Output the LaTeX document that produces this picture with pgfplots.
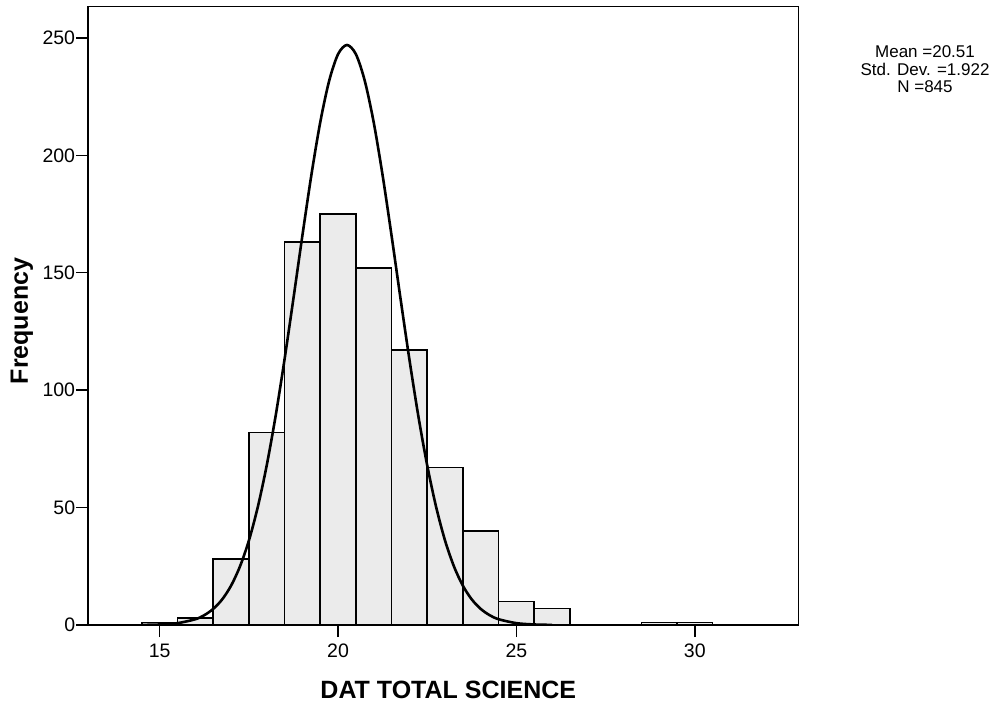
\documentclass[border=0pt]{standalone}
\usepackage{fontspec}
\setmainfont{Liberation Sans}
\usepackage{pgfplots}
\pgfplotsset{compat=1.18}
\begin{document}
\begin{tikzpicture}[x=1pt,y=1pt]
\path[use as bounding box] (0,0) rectangle (1007,710);
\begin{axis}[
  at={(88.3pt,85pt)}, anchor=south west,
  scale only axis, width=710pt, height=618.5pt,
  xmin=13, xmax=32.9, ymin=0, ymax=263.4,
  xtick={15,20,25,30}, ytick={0,50,100,150,200,250},
  xtick pos=left, ytick pos=left,
  tick align=outside, major tick length=12pt,
  axis line style={line width=1.6pt},
  every tick/.style={black, line width=1.4pt},
  /pgf/number format/assume math mode=true,
  ticklabel style={font=\fontsize{19.5}{21}\selectfont, inner sep=1pt},
  xticklabel style={yshift=-6pt},
  xlabel={DAT TOTAL SCIENCE},
  ylabel={Frequency},
  xlabel style={font=\bfseries\fontsize{25}{28}\selectfont, at={(axis description cs:0.507,-0.105)}, anchor=center},
  ylabel style={font=\bfseries\fontsize{25}{28}\selectfont, at={(axis description cs:-0.0934,0.4915)}, anchor=center},
]
\addplot[ybar, bar width=1, bar shift=0pt, fill=gray!16, draw=black, line width=1.6pt]
  coordinates {(15,1)(16,3)(17,28)(18,82)(19,163)(20,175)(21,152)(22,117)(23,67)(24,40)(25,10)(26,7)(29,1)(30,1)};
\addplot[black, line width=2.6pt, smooth, mark=none]
  coordinates {(14.5,0.05)(15,0.22)(15.5,0.78)(16,2.46)(16.25,4.17)(16.5,6.84)(16.75,10.85)(17,16.7)(17.25,24.9)(17.5,35.9)(17.75,50.2)(18,67.9)(18.25,89.0)(18.5,113.1)(18.75,139.1)(19,165.8)(19.25,191.4)(19.5,214.0)(19.75,231.7)(20,243.1)(20.25,247)(20.5,243.1)(20.75,231.7)(21,214.0)(21.25,191.4)(21.5,165.8)(21.75,139.1)(22,113.1)(22.25,89.0)(22.5,67.9)(22.75,50.2)(23,35.9)(23.25,24.9)(23.5,16.7)(23.75,10.85)(24,6.84)(24.25,4.17)(24.5,2.46)(25,0.78)(25.5,0.22)(26,0.05)};
\end{axis}
\node[align=center, font=\fontsize{17}{17.5}\selectfont, inner sep=0pt] at (925,640.5) {Mean =20.51\\Std. Dev. =1.922\\N =845};
\end{tikzpicture}
\end{document}
